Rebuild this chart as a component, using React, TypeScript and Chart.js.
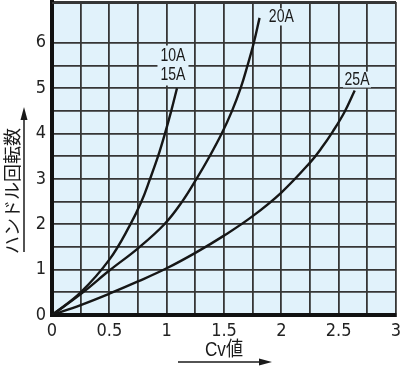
import React, { useEffect, useRef } from 'react';
import { Chart, registerables } from 'chart.js';

Chart.register(...registerables);

// ---- data ----
const xTickValues = [0, 0.5, 1, 1.5, 2, 2.5, 3];
const xTickLabels = ['0', '0.5', '1', '1.5', '2', '2.5', '3'];
const yTickValues = [0, 1, 2, 3, 4, 5, 6];
const yTickLabels = ['0', '1', '2', '3', '4', '5', '6'];

const curve1015X = [0, 0.25, 0.5, 0.68, 0.78, 0.855, 0.925, 0.985, 1.04, 1.09];
const curve1015Y = [0, 0.5, 1.22, 1.98, 2.5, 3.0, 3.5, 4.0, 4.5, 5.0];

const curve20X = [0, 0.25, 0.5, 0.75, 0.98, 1.135, 1.26, 1.375, 1.48, 1.57, 1.645, 1.705, 1.76, 1.81];
const curve20Y = [0, 0.46, 0.98, 1.47, 2.0, 2.5, 3.0, 3.5, 4.0, 4.5, 5.0, 5.5, 6.0, 6.55];

const curve25X = [0, 0.25, 0.5, 0.75, 1.0, 1.25, 1.5, 1.75, 2.0, 2.25, 2.35, 2.45, 2.55, 2.64];
const curve25Y = [0, 0.22, 0.47, 0.74, 1.03, 1.37, 1.75, 2.18, 2.7, 3.36, 3.68, 4.05, 4.47, 4.95];

const seriesNames = ['10A/15A', '20A', '25A'];
const xTitle = 'Cv値';
const yTitle = 'ハンドル回転数';

const FAMILY = '"Liberation Sans Narrow", "DejaVu Sans", "Liberation Sans", sans-serif';

const toPoints = (xs: number[], ys: number[]) => xs.map((x, i) => ({ x, y: ys[i] }));

const curveLabels = [
  { lines: ['10A', '15A'], x: 1.055, y: 5.5, mask: [31, 40] },
  { lines: ['20A'], x: 2.0, y: 6.57, mask: [30, 17] },
  { lines: ['25A'], x: 2.66, y: 5.19, mask: [28, 16] },
];

// draw text compressed horizontally to a target width
function narrowText(ctx: CanvasRenderingContext2D, t: string, cx: number, cy: number, w: number) {
  const m = ctx.measureText(t).width;
  const s = Math.min(1, w / m);
  ctx.save();
  ctx.translate(cx, cy);
  ctx.scale(s, 1);
  ctx.fillText(t, 0, 0);
  ctx.restore();
}

const decorPlugin = {
  id: 'decor',
  beforeDraw(chart: any) {
    const { ctx, chartArea: a } = chart;
    ctx.save();
    ctx.fillStyle = '#e1f2fb';
    ctx.fillRect(a.left, a.top, a.right - a.left, a.bottom - a.top);
    ctx.restore();
  },
  beforeDatasetsDraw(chart: any) {
    const { ctx, scales } = chart;
    const a = chart.chartArea;
    ctx.save();
    ctx.strokeStyle = '#363636';
    ctx.lineWidth = 2;
    ctx.beginPath();
    ctx.moveTo(a.left, a.top + 1);
    ctx.lineTo(a.right, a.top + 1);
    ctx.stroke();
    ctx.fillStyle = '#e1f2fb';
    for (const l of curveLabels) {
      const cx = scales.x.getPixelForValue(l.x);
      const cy = scales.y.getPixelForValue(l.y);
      ctx.fillRect(cx - l.mask[0] / 2, cy - l.mask[1] / 2, l.mask[0], l.mask[1]);
    }
    ctx.restore();
  },
  afterDatasetsDraw(chart: any) {
    const { ctx, scales } = chart;
    ctx.save();
    ctx.fillStyle = '#1a1a1a';
    ctx.font = '19px "Liberation Sans", sans-serif';
    ctx.textAlign = 'center';
    ctx.textBaseline = 'middle';
    for (const l of curveLabels) {
      const cx = scales.x.getPixelForValue(l.x);
      const cy = scales.y.getPixelForValue(l.y);
      const lh = 19;
      const start = cy - ((l.lines.length - 1) * lh) / 2;
      l.lines.forEach((t, i) => narrowText(ctx, t, cx, start + i * lh, 25));
    }
    ctx.restore();
  },
  afterDraw(chart: any) {
    const { ctx } = chart;
    ctx.save();
    ctx.fillStyle = '#1a1a1a';
    ctx.strokeStyle = '#1a1a1a';
    // y title
    ctx.save();
    ctx.translate(12, 191);
    ctx.rotate(-Math.PI / 2);
    ctx.font = '18px "Noto Sans CJK JP", sans-serif';
    ctx.textAlign = 'center';
    ctx.textBaseline = 'middle';
    narrowText(ctx, yTitle, 0, 0, 140);
    ctx.restore();
    // y arrow
    ctx.lineWidth = 1.5;
    ctx.beginPath();
    ctx.moveTo(24, 252);
    ctx.lineTo(24, 118);
    ctx.stroke();
    ctx.beginPath();
    ctx.moveTo(24, 107);
    ctx.lineTo(20.5, 120);
    ctx.lineTo(27.5, 120);
    ctx.closePath();
    ctx.fill();
    // x title
    ctx.font = '20px "Liberation Sans", "Noto Sans CJK JP", sans-serif';
    ctx.textAlign = 'center';
    ctx.textBaseline = 'middle';
    narrowText(ctx, xTitle, 224, 350, 38);
    // x arrow
    ctx.beginPath();
    ctx.moveTo(178, 362);
    ctx.lineTo(260, 362);
    ctx.stroke();
    ctx.beginPath();
    ctx.moveTo(272, 362);
    ctx.lineTo(259, 358.5);
    ctx.lineTo(259, 365.5);
    ctx.closePath();
    ctx.fill();
    ctx.restore();
  },
};

export default function App() {
  const ref = useRef<HTMLCanvasElement | null>(null);

  useEffect(() => {
    if (!ref.current) return;
    const lineStyle = {
      borderColor: '#161616',
      borderWidth: 2.4,
      pointRadius: 0,
      fill: false,
      tension: 0.4,
    };
    const tickFont = { family: FAMILY, size: 18, weight: 'condensed' as any };
    const chart = new Chart(ref.current, {
      type: 'line',
      data: {
        datasets: [
          { label: seriesNames[0], data: toPoints(curve1015X, curve1015Y), ...lineStyle },
          { label: seriesNames[1], data: toPoints(curve20X, curve20Y), ...lineStyle },
          { label: seriesNames[2], data: toPoints(curve25X, curve25Y), ...lineStyle },
        ],
      },
      options: {
        animation: false,
        responsive: false,
        layout: { padding: { top: 2, right: 4, left: 0, bottom: 0 } },
        plugins: { legend: { display: false }, tooltip: { enabled: false } },
        scales: {
          x: {
            type: 'linear',
            min: 0,
            max: 3,
            afterFit: (s: any) => {
              s.height = 53;
              s.paddingLeft = 0;
              s.paddingRight = 0;
            },
            ticks: {
              stepSize: 0.25,
              autoSkip: false,
              maxRotation: 0,
              padding: 6,
              color: '#222',
              font: tickFont,
              callback: (v: any) => {
                const i = xTickValues.findIndex((t) => Math.abs(t - Number(v)) < 1e-6);
                return i >= 0 ? xTickLabels[i] : '';
              },
            },
            grid: { color: '#363636', lineWidth: 1.8, drawTicks: false },
            border: { color: '#111', width: 4 },
          },
          y: {
            type: 'linear',
            min: 0,
            max: 6.9,
            afterFit: (s: any) => {
              s.width = 52;
              s.paddingTop = 0;
              s.paddingBottom = 0;
            },
            ticks: {
              stepSize: 0.5,
              autoSkip: false,
              padding: 6,
              color: '#222',
              font: tickFont,
              callback: (v: any) => {
                const i = yTickValues.findIndex((t) => Math.abs(t - Number(v)) < 1e-6);
                return i >= 0 ? yTickLabels[i] : '';
              },
            },
            grid: { color: '#363636', lineWidth: 1.8, drawTicks: false },
            border: { color: '#111', width: 4 },
          },
        },
      },
      plugins: [decorPlugin],
    });
    return () => chart.destroy();
  }, []);

  return (
    <div style={{ position: 'absolute', left: 0, top: 0, width: 400, height: 368, background: '#fff' }}>
      <canvas ref={ref} width={400} height={368} style={{ display: 'block' }} />
    </div>
  );
}
